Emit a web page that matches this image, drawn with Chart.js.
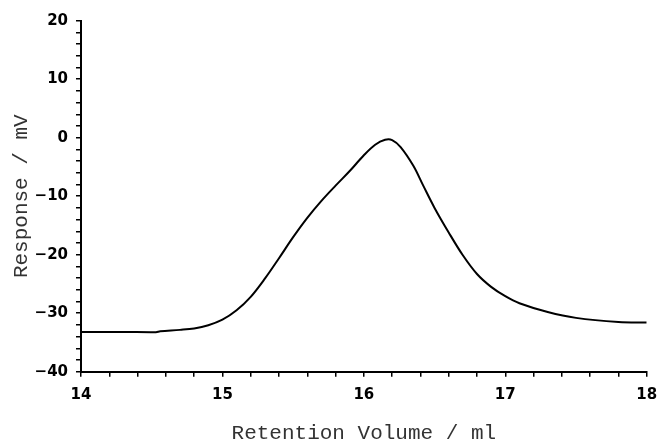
<!DOCTYPE html>
<html>
<head>
<meta charset="utf-8">
<script src="https://cdn.jsdelivr.net/npm/chart.js@4"></script>
<style>
  body { margin: 0; background: #fff; }
  #wrap { width: 658px; height: 443px; }
</style>
</head>
<body>
<div id="wrap"><canvas id="chrom" width="658" height="443"></canvas></div>
<script>
// elution trace: retention volume (ml) vs detector response (mV)
const volume = [14.0, 14.3, 14.53, 14.56, 14.7, 14.8, 14.9, 15.0, 15.1, 15.2, 15.3, 15.4, 15.5, 15.6, 15.7, 15.8, 15.9, 16.0, 16.08, 16.15, 16.2, 16.26, 16.35, 16.42, 16.5, 16.6, 16.7, 16.8, 16.9, 17.0, 17.1, 17.3, 17.5, 17.8, 18.0]
const response = [-33.2, -33.2, -33.25, -33.1, -32.85, -32.6, -32.05, -31.1, -29.5, -27.2, -24.1, -20.6, -17.0, -13.7, -10.8, -8.2, -5.7, -3.0, -1.2, -0.35, -0.4, -1.6, -4.8, -8.2, -12.0, -16.2, -20.1, -23.3, -25.5, -27.1, -28.3, -29.8, -30.8, -31.5, -31.6]

const xTicks = [14, 15, 16, 17, 18]
const yTicks = [-40, -30, -20, -10, 0, 10, 20]

const points = volume.map((v, i) => ({ x: v, y: response[i] }))

function fmt(v) {
  return v < 0 ? '\u2212' + Math.abs(v) : String(v)
}
function majorLabel(list) {
  return function (value) {
    const hit = list.find(t => Math.abs(t - value) < 1e-6)
    return hit === undefined ? '' : fmt(hit)
  }
}

const tickFont = { family: 'DejaVu Sans', weight: 'bold', size: 15 }
const titleFont = { family: 'Liberation Mono', size: 21, lineHeight: 1 }

const ctx = document.getElementById('chrom')
const chart = new Chart(ctx, {
  type: 'scatter',
  data: {
    datasets: [{
      data: points,
      showLine: true,
      borderColor: '#000',
      borderWidth: 2,
      pointRadius: 0,
      tension: 0.35,
      fill: false
    }]
  },
  options: {
    responsive: false,
    animation: false,
    layout: { padding: { top: 20.7, right: 11.3, left: 0, bottom: 0 } },
    plugins: { legend: { display: false }, tooltip: { enabled: false } },
    scales: {
      x: {
        type: 'linear',
        min: 14,
        max: 18,
        afterFit: (scale) => {
          scale.height = 71.3
          // end labels may hang past the plot edge
          scale.paddingLeft = 0
          scale.paddingRight = 0
        },
        ticks: {
          stepSize: 0.2,
          autoSkip: false,
          maxRotation: 0,
          padding: 9,
          color: '#000',
          font: tickFont,
          callback: majorLabel(xTicks)
        },
        grid: { drawOnChartArea: false, drawTicks: true, tickLength: 5, color: '#000', lineWidth: 1.5 },
        border: { color: '#000', width: 2 },
        title: {
          display: true,
          text: 'Retention Volume / ml',
          color: '#333',
          font: titleFont,
          padding: { top: 0, bottom: -1 }
        }
      },
      y: {
        min: -40,
        max: 20,
        afterFit: (scale) => {
          scale.width = 81
          scale.paddingTop = 0
          scale.paddingBottom = 0
        },
        ticks: {
          stepSize: 2,
          autoSkip: false,
          padding: 8,
          color: '#000',
          font: tickFont,
          callback: majorLabel(yTicks)
        },
        grid: { drawOnChartArea: false, drawTicks: true, tickLength: 5, color: '#000', lineWidth: 1.5 },
        border: { color: '#000', width: 2 },
        title: {
          display: true,
          text: 'Response / mV',
          color: '#333',
          font: titleFont,
          padding: { top: 11, bottom: 0 }
        }
      }
    }
  }
})
</script>
</body>
</html>
